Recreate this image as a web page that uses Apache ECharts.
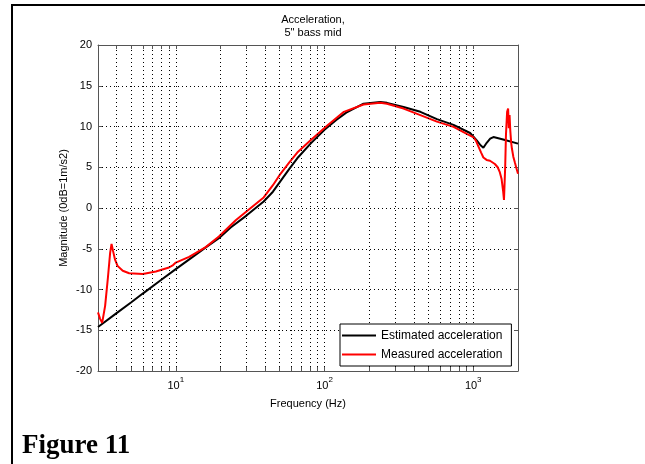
<!DOCTYPE html>
<html>
<head>
<meta charset="utf-8">
<script src="https://cdn.jsdelivr.net/npm/echarts@6/dist/echarts.min.js"></script>
<style>
html,body{margin:0;padding:0;background:#fff;}
#chart{width:645px;height:464px;}
</style>
</head>
<body>
<div id="chart"></div>
<script>
// estimated acceleration (black)
const freqEst = [3, 4, 5, 6, 8, 10, 13, 16, 19.5, 23.4, 30, 39, 45, 50.6, 58, 65.6, 80.6, 100, 120, 140, 183, 237, 263, 340, 441, 570, 737, 953, 1056, 1120, 1170, 1232, 1300, 1367, 1590, 2000];
const magEst = [-14.6, -12.9, -11.6, -10.5, -8.8, -7.5, -6.0, -4.8, -3.7, -2.4, -0.9, 0.8, 2.0, 3.3, 4.8, 6.1, 7.9, 9.6, 10.8, 11.7, 12.8, 13.0, 12.9, 12.4, 11.8, 10.9, 10.2, 9.2, 8.3, 7.7, 7.4, 8.0, 8.5, 8.7, 8.4, 7.9];
// measured acceleration (red)
const freqMeas = [3, 3.1, 3.2, 3.35, 3.5, 3.62, 3.7, 3.78, 3.9, 4.06, 4.4, 4.86, 6.0, 7.35, 9.0, 9.6, 10, 12.3, 15.9, 19.5, 25.3, 30, 39, 45, 50.6, 58, 65.6, 80.6, 104, 135, 183, 237, 263, 340, 441, 570, 737, 905, 999, 1040, 1081, 1130, 1170, 1230, 1296, 1398, 1460, 1509, 1550, 1590, 1610, 1640, 1660, 1690, 1716, 1735, 1755, 1775, 1800, 1820, 1860, 1904, 1950, 2000];
const magMeas = [-12.8, -13.6, -14.1, -12.0, -8.5, -5.5, -4.4, -5.2, -6.3, -7.1, -7.7, -8.0, -8.1, -7.8, -7.3, -7.0, -6.7, -6.0, -4.8, -3.5, -1.5, -0.4, 1.3, 2.8, 4.2, 5.6, 6.8, 8.3, 10.1, 11.8, 12.7, 12.9, 12.8, 12.2, 11.4, 10.6, 9.95, 9.1, 8.7, 8.3, 7.6, 6.8, 6.2, 5.9, 5.8, 5.4, 5.0, 4.4, 3.6, 2.0, 1.0, 5.0, 9.0, 11.8, 12.2, 9.8, 11.4, 9.5, 8.0, 7.3, 6.3, 5.6, 4.9, 4.2];
// log grid positions on the frequency axis
const gridFreqs = [4, 5, 6, 7, 8, 9, 10, 20, 30, 40, 50, 60, 70, 80, 90, 100, 200, 300, 400, 500, 600, 700, 800, 900, 1000];
const yMin = -20, yMax = 20, yStep = 5;

const font = 'Arial, "Liberation Sans", sans-serif';
const axisColor = '#555';

function zip(xs, ys){
    return xs.map((x, i) => [x, ys[i]]);
}

let chart = echarts.init(document.getElementById('chart'));

const option = {
    backgroundColor: '#fff',
    animation: false,
    title: {
        text: 'Acceleration,\n5" bass mid',
        left: 308,
        top: 8,
        textAlign: 'center',
        textStyle: {fontFamily: font, fontSize: 11, fontWeight: 'normal', color: '#000', lineHeight: 13}
    },
    grid: {left: 98, right: 127, top: 45, bottom: 93},
    legend: {
        data: ['Estimated acceleration', 'Measured acceleration'],
        orient: 'vertical',
        left: 340,
        top: 324,
        z: 20,
        padding: [4, 9, 4, 2],
        itemGap: 4,
        itemWidth: 34,
        itemHeight: 2,
        icon: 'rect',
        backgroundColor: '#fff',
        borderColor: '#000',
        borderWidth: 1,
        textStyle: {fontFamily: font, fontSize: 12, color: '#000', lineHeight: 15}
    },
    xAxis: [{
        type: 'log',
        logBase: 10,
        min: 3,
        max: 2000,
        position: 'bottom',
        name: 'Frequency (Hz)',
        nameLocation: 'middle',
        nameGap: 27,
        nameTextStyle: {fontFamily: font, fontSize: 11, color: '#000'},
        axisLine: {onZero: false, lineStyle: {color: axisColor, width: 1}},
        axisTick: {show: false},
        splitLine: {show: false},
        axisLabel: {
            margin: 5,
            formatter: (v) => {
                const p = Math.log10(v);
                if (Math.abs(p - Math.round(p)) > 1e-6) return '';
                return '{b|10}{s|' + Math.round(p) + '}';
            },
            rich: {
                b: {fontFamily: font, fontSize: 11, color: '#000', padding: [4, 0, 0, 0]},
                s: {fontFamily: font, fontSize: 8, color: '#000', verticalAlign: 'top'}
            }
        }
    }, {
        type: 'log',
        logBase: 10,
        min: 3,
        max: 2000,
        position: 'top',
        axisLine: {onZero: false, lineStyle: {color: axisColor, width: 1}},
        axisTick: {show: false},
        axisLabel: {show: false},
        splitLine: {show: false}
    }],
    yAxis: [{
        type: 'value',
        min: yMin,
        max: yMax,
        interval: yStep,
        position: 'left',
        name: 'Magnitude (0dB=1m/s2)',
        nameLocation: 'middle',
        nameGap: 29,
        nameMoveOverlap: false,
        nameTextStyle: {fontFamily: font, fontSize: 11, color: '#000'},
        axisLine: {show: true, onZero: false, lineStyle: {color: axisColor, width: 1}},
        axisTick: {show: true, inside: true, length: 4, lineStyle: {color: axisColor}},
        axisLabel: {fontFamily: font, fontSize: 11, color: '#000', margin: 6},
        splitLine: {show: true, lineStyle: {color: '#000', width: 1, type: [1, 3]}}
    }, {
        type: 'value',
        min: yMin,
        max: yMax,
        interval: yStep,
        position: 'right',
        axisLine: {show: true, onZero: false, lineStyle: {color: axisColor, width: 1}},
        axisTick: {show: true, inside: true, length: 4, lineStyle: {color: axisColor}},
        axisLabel: {show: false},
        splitLine: {show: false}
    }],
    graphic: [
        {type: 'line', shape: {x1: 12, y1: 5, x2: 645, y2: 5}, style: {stroke: '#000', lineWidth: 2}},
        {type: 'line', shape: {x1: 12, y1: 4, x2: 12, y2: 464}, style: {stroke: '#000', lineWidth: 2}},
        {type: 'text', x: 22, y: 446, style: {text: 'Figure 11', font: 'bold 27px "Liberation Serif", "Times New Roman", serif', fill: '#000', verticalAlign: 'middle'}}
    ],
    series: [{
        name: 'xgrid',
        type: 'line',
        data: [],
        z: 1,
        silent: true,
        markLine: {
            silent: true,
            symbol: ['none', 'none'],
            label: {show: false},
            lineStyle: {color: '#000', width: 1, type: [1, 3]},
            data: gridFreqs.map(v => [{coord: [v, yMin]}, {coord: [v, yMax]}])
        }
    }, {
        name: 'xticks',
        type: 'line',
        data: [],
        z: 1,
        silent: true,
        markLine: {
            silent: true,
            symbol: ['none', 'none'],
            label: {show: false},
            lineStyle: {color: axisColor, width: 1, type: 'solid'},
            data: gridFreqs.map(v => [{coord: [v, yMin]}, {coord: [v, yMin + 0.5]}])
                .concat(gridFreqs.map(v => [{coord: [v, yMax]}, {coord: [v, yMax - 0.5]}]))
        }
    }, {
        name: 'Estimated acceleration',
        type: 'line',
        data: zip(freqEst, magEst),
        z: 3,
        symbol: 'none',
        lineStyle: {color: '#000', width: 2},
        itemStyle: {color: '#000'}
    }, {
        name: 'Measured acceleration',
        type: 'line',
        data: zip(freqMeas, magMeas),
        z: 4,
        symbol: 'none',
        lineStyle: {color: '#ff0000', width: 2},
        itemStyle: {color: '#ff0000'}
    }]
};
chart.setOption(option);
</script>
</body>
</html>
